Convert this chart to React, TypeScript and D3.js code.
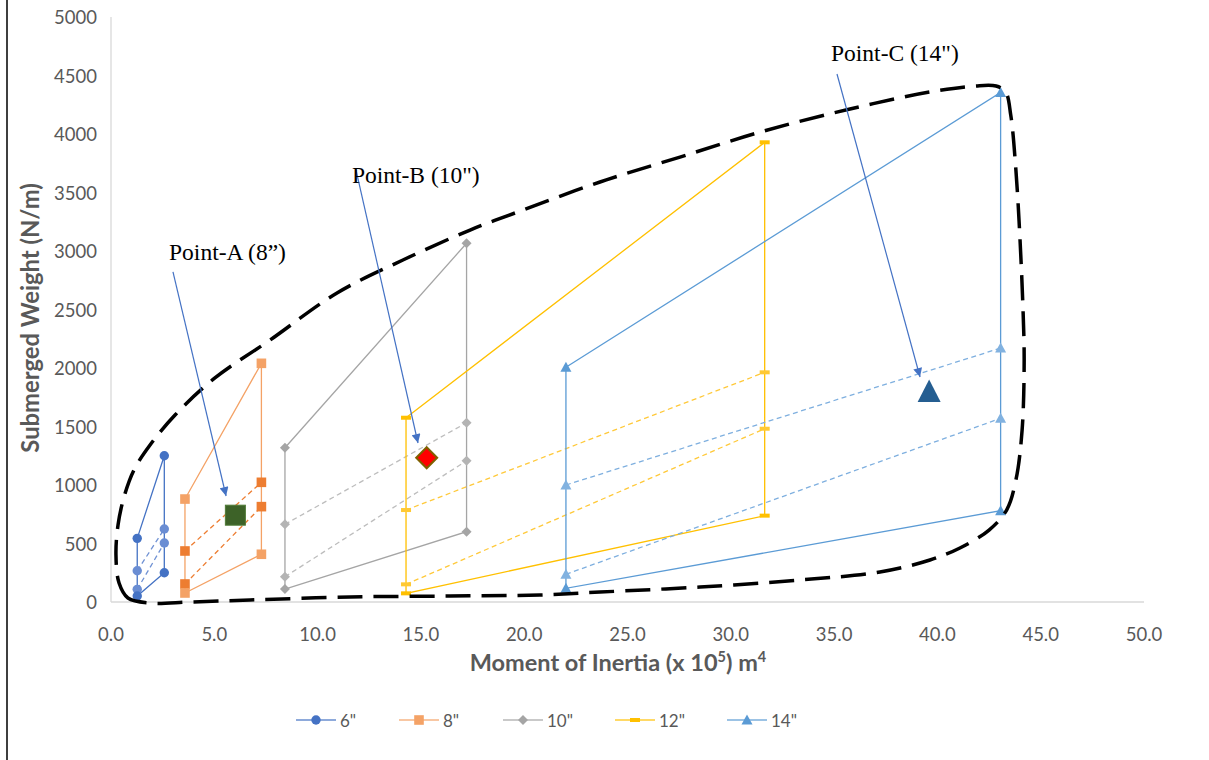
import React from "react";
import * as d3 from "d3";

// ---------- data ----------
const sizeLabels = ['6"', '8"', '10"', '12"', '14"'];
const leftInertia = [1.27, 3.58, 8.42, 14.28, 22.02];
const rightInertia = [2.58, 7.28, 17.21, 31.64, 43.06];
// weights: [top, upper (dashed), lower (dashed), bottom]
const leftWeights = [
  [544, 267, 108, 51],
  [880, 436, 154, 77],
  [1318, 664, 216, 111],
  [1575, 786, 151, 74],
  [2006, 1000, 237, 117],
];
const rightWeights = [
  [1250, 624, 504, 250],
  [2040, 1023, 815, 408],
  [3066, 1532, 1207, 601],
  [3929, 1963, 1481, 738],
  [4355, 2170, 1570, 780],
];

const mainColors = ["#4472C4", "#F4A266", "#A5A5A5", "#FFC000", "#5B9BD5"];
const dashColors = ["#7092D4", "#ED7D31", "#BDBDBD", "#FFC93A", "#7EAFDF"];
const dashMarkerColors = ["#6A8DD3", "#ED7D31", "#B4B4B4", "#FFC933", "#82B2E0"];
const shapes = ["circle", "square", "diamond", "dash", "triangle"];

const specialLabels = ["Point-A (8\u201D)", 'Point-B (10")', 'Point-C (14")'];
const specialInertia = [6.02, 15.28, 39.6];
const specialWeights = [742, 1233, 1800];
const specialShapes = ["bigSquare", "bigDiamond", "bigTriangle"];
const labelInertia = [2.81, 11.66, 34.85];
const labelWeights = [2923, 3581, 4624];
const arrowFromInertia = [3.0, 11.86, 35.14];
const arrowFromWeights = [2821, 3692, 4513];
const arrowToInertia = [5.57, 14.86, 39.16];
const arrowToWeights = [906, 1359, 1923];

const envelopeInertia = [
  1.89, 0.82, 0.39, 0.24, 0.34, 0.63, 1.11, 1.89, 3.1, 5.03, 7.7, 10.94, 14.13,
  17.38, 19.94, 23.67, 27.54, 31.61, 35.77, 39.64, 41.82, 42.84, 43.3, 43.55,
  43.8, 44.0, 44.15, 44.2, 44.1, 43.8, 43.35, 42.5, 41.09, 39.64, 37.22,
  33.35, 28.51, 23.67, 20.76, 16.41, 11.57, 6.73, 3.82,
];
const envelopeWeights = [
  -9, 34, 162, 402, 658, 897, 1128, 1342, 1598, 1915, 2239, 2641, 2923, 3179,
  3350, 3590, 3803, 4026, 4214, 4359, 4410, 4410, 4359, 4162, 3692, 3094, 2470,
  2068, 1470, 1043, 786, 615, 462, 359, 256, 188, 128, 85, 60, 51, 43, 17, 0,
];

const xTicks = [0, 5, 10, 15, 20, 25, 30, 35, 40, 45, 50];
const yTicks = [0, 500, 1000, 1500, 2000, 2500, 3000, 3500, 4000, 4500, 5000];
const legendX = [296, 399, 503, 615, 727];

// ---------- layout ----------
const W = 1209;
const H = 760;
const TICK_FONT = "Lato, 'Open Sans', sans-serif";
const GRAY_TEXT = "#595959";

function Marker({ shape, cx, cy, fill }: { shape: string; cx: number; cy: number; fill: string }) {
  switch (shape) {
    case "circle":
      return <circle cx={cx} cy={cy} r={4.7} fill={fill} />;
    case "square":
      return <rect x={cx - 4.8} y={cy - 4.8} width={9.6} height={9.6} fill={fill} />;
    case "diamond":
      return <path d={`M${cx},${cy - 5}L${cx + 5},${cy}L${cx},${cy + 5}L${cx - 5},${cy}Z`} fill={fill} />;
    case "dash":
      return <rect x={cx - 5} y={cy - 2} width={10} height={4} fill={fill} />;
    case "triangle":
      return <path d={`M${cx},${cy - 5.5}L${cx + 5.5},${cy + 4.5}L${cx - 5.5},${cy + 4.5}Z`} fill={fill} />;
    case "bigSquare":
      return <rect x={cx - 10} y={cy - 10} width={20} height={20} fill="#3D6228" stroke="#4F7B36" strokeWidth={1} />;
    case "bigDiamond":
      return (
        <path
          d={`M${cx},${cy - 10.5}L${cx + 10.5},${cy}L${cx},${cy + 10.5}L${cx - 10.5},${cy}Z`}
          fill="#FF0000"
          stroke="#7F6000"
          strokeWidth={2}
        />
      );
    case "bigTriangle":
      return <path d={`M${cx},${cy - 12}L${cx + 11.5},${cy + 10.5}L${cx - 11.5},${cy + 10.5}Z`} fill="#255E91" />;
    default:
      return null;
  }
}

export default function App() {
  const x = d3.scaleLinear().domain([0, 50]).range([111, 1144]);
  const y = d3.scaleLinear().domain([0, 5000]).range([602, 17]);
  const line = d3
    .line<[number, number]>()
    .x((d) => x(d[0]))
    .y((d) => y(d[1]));
  const envelope = d3
    .line<[number, number]>()
    .x((d) => x(d[0]))
    .y((d) => y(d[1]))
    .curve(d3.curveCatmullRomClosed.alpha(0.5));
  const envPts: [number, number][] = envelopeInertia.map((v, i) => [v, envelopeWeights[i]]);

  return (
    <svg
      width={W}
      height={H}
      style={{ position: "absolute", left: 0, top: 0, background: "#fff" }}
      xmlns="http://www.w3.org/2000/svg"
    >
      <defs>
        <marker
          id="arrowHead"
          viewBox="0 0 10 10"
          refX={10}
          refY={5}
          markerWidth={10}
          markerHeight={9}
          markerUnits="userSpaceOnUse"
          orient="auto"
        >
          <path d="M0,0L10,5L0,10Z" fill="#4472C4" />
        </marker>
      </defs>
      <rect width={W} height={H} fill="#fff" />
      {/* chart frame (left edge) */}
      <line x1={7} x2={7} y1={0} y2={H} stroke="#3F3F3F" strokeWidth={2} />

      {/* axes */}
      <line x1={x(0)} x2={x(0)} y1={y(5000)} y2={y(0)} stroke="#D9D9D9" strokeWidth={1.3} />
      <line x1={x(0)} x2={x(50)} y1={y(0)} y2={y(0)} stroke="#D9D9D9" strokeWidth={1.3} />

      {yTicks.map((t) => (
        <text
          key={"y" + t}
          x={97}
          y={y(t)}
          textAnchor="end"
          dominantBaseline="central"
          fontFamily={TICK_FONT}
          fontSize={18.5}
          fill={GRAY_TEXT}
        >
          {t}
        </text>
      ))}
      {xTicks.map((t) => (
        <text
          key={"x" + t}
          x={x(t)}
          y={634}
          textAnchor="middle"
          dominantBaseline="central"
          fontFamily={TICK_FONT}
          fontSize={18.5}
          fill={GRAY_TEXT}
        >
          {t.toFixed(1)}
        </text>
      ))}

      {/* axis titles */}
      <text
        x={618}
        y={671}
        textAnchor="middle"
        fontFamily={TICK_FONT}
        fontWeight="bold"
        fontSize={23.5}
        fill={GRAY_TEXT}
      >
        Moment of Inertia (x 10
        <tspan fontSize={14.5} dy={-9}>
          5
        </tspan>
        <tspan dy={9}>) m</tspan>
        <tspan fontSize={14.5} dy={-9}>
          4
        </tspan>
      </text>
      <text
        transform="translate(30,318) rotate(-90)"
        textAnchor="middle"
        dominantBaseline="central"
        fontFamily={TICK_FONT}
        fontWeight="bold"
        fontSize={23.8}
        fill={GRAY_TEXT}
      >
        Submerged Weight (N/m)
      </text>

      {/* series */}
      {sizeLabels.map((label, i) => {
        const xl = leftInertia[i];
        const xr = rightInertia[i];
        const L = leftWeights[i];
        const R = rightWeights[i];
        const mainPts: [number, number][] = [
          [xl, L[0]],
          [xr, R[0]],
          [xr, R[3]],
          [xl, L[3]],
          [xl, L[0]],
        ];
        const dashA: [number, number][] = [
          [xl, L[1]],
          [xr, R[1]],
        ];
        const dashB: [number, number][] = [
          [xl, L[2]],
          [xr, R[2]],
        ];
        return (
          <g key={label}>
            <path d={line(dashA) || ""} fill="none" stroke={dashColors[i]} strokeWidth={1.3} strokeDasharray="5,3.5" />
            <path d={line(dashB) || ""} fill="none" stroke={dashColors[i]} strokeWidth={1.3} strokeDasharray="5,3.5" />
            <path d={line(mainPts) || ""} fill="none" stroke={mainColors[i]} strokeWidth={1.3} />
            {[...dashA, ...dashB].map((p, k) => (
              <Marker key={"d" + k} shape={shapes[i]} cx={x(p[0])} cy={y(p[1])} fill={dashMarkerColors[i]} />
            ))}
            {mainPts.slice(0, 4).map((p, k) => (
              <Marker key={"m" + k} shape={shapes[i]} cx={x(p[0])} cy={y(p[1])} fill={mainColors[i]} />
            ))}
          </g>
        );
      })}

      {/* envelope */}
      <path
        d={envelope(envPts) || ""}
        fill="none"
        stroke="#000"
        strokeWidth={3.5}
        strokeDasharray="25,11"
      />

      {/* highlighted points, labels, arrows */}
      {specialLabels.map((lab, i) => (
        <g key={lab}>
          <Marker
            shape={specialShapes[i]}
            cx={x(specialInertia[i])}
            cy={y(specialWeights[i])}
            fill="#000"
          />
          <line
            x1={x(arrowFromInertia[i])}
            y1={y(arrowFromWeights[i])}
            x2={x(arrowToInertia[i])}
            y2={y(arrowToWeights[i])}
            stroke="#4472C4"
            strokeWidth={1.2}
            markerEnd="url(#arrowHead)"
          />
          <text
            x={x(labelInertia[i])}
            y={y(labelWeights[i])}
            fontFamily="'Liberation Serif', 'Times New Roman', serif"
            fontSize={23.5}
            fill="#000"
          >
            {lab}
          </text>
        </g>
      ))}

      {/* legend */}
      {sizeLabels.map((label, i) => {
        const lx = legendX[i];
        const ly = 720;
        return (
          <g key={"lg" + label}>
            <line x1={lx} x2={lx + 40} y1={ly} y2={ly} stroke={mainColors[i]} strokeWidth={1.6} strokeOpacity={0.8} />
            <Marker shape={shapes[i]} cx={lx + 20} cy={ly} fill={mainColors[i]} />
            <text
              x={lx + 44}
              y={ly}
              dominantBaseline="central"
              fontFamily={TICK_FONT}
              fontSize={17}
              fill={GRAY_TEXT}
            >
              {label}
            </text>
          </g>
        );
      })}
    </svg>
  );
}
